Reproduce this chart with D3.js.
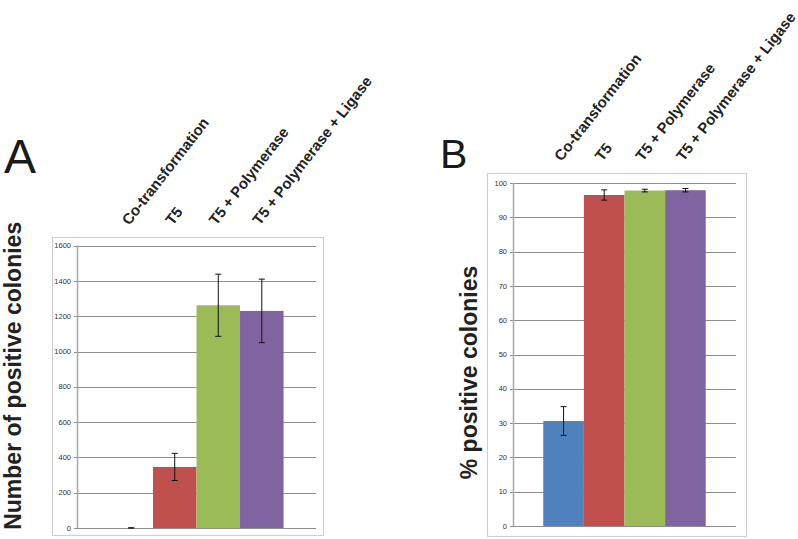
<!DOCTYPE html>
<html>
<head>
<meta charset="utf-8">
<script src="https://cdn.jsdelivr.net/npm/d3@7"></script>
<style>
  body { margin: 0; background: #fff; }
  svg { display: block; }
</style>
</head>
<body>
<div id="chart"></div>
<script>

// chart data
var categories = ["Co-transformation", "T5", "T5 + Polymerase", "T5 + Polymerase + Ligase"];
var barColors = ["#4f81bd", "#c0504d", "#9bbb59", "#8064a2"];

var countValues = [0, 346, 1262, 1230];
var countErrors = [1, 77, 176, 180];
var countTicks = [0, 200, 400, 600, 800, 1000, 1200, 1400, 1600];

var pctValues = [30.6, 96.5, 97.8, 97.9];
var pctErrors = [4.2, 1.5, 0.4, 0.5];
var pctTicks = [0, 10, 20, 30, 40, 50, 60, 70, 80, 90, 100];

var svg = d3.select("#chart").append("svg")
    .attr("width", 798)
    .attr("height", 539);

function drawPanel(opt){

    var g = svg.append("g");

    // outer chart frame
    g.append("rect")
        .attr("x", opt.frame[0] + 0.5)
        .attr("y", opt.frame[1] + 0.5)
        .attr("width", opt.frame[2] - opt.frame[0])
        .attr("height", opt.frame[3] - opt.frame[1])
        .attr("fill", "none")
        .attr("stroke", "#d0d0d0")
        .attr("stroke-width", 1.2);

    var x = d3.scaleBand()
        .domain(categories)
        .range([opt.left, opt.right])
        .paddingInner(0)
        .paddingOuter(0.745);

    var y = d3.scaleLinear()
        .domain([0, opt.max])
        .range([opt.bottom, opt.top]);

    // gridlines
    g.selectAll(".grid")
        .data(opt.ticks)
        .enter().append("line")
        .attr("x1", opt.left - 3)
        .attr("x2", opt.right)
        .attr("y1", function(d){ return Math.round(y(d)) + 0.5; })
        .attr("y2", function(d){ return Math.round(y(d)) + 0.5; })
        .attr("stroke", "#8e8e8e")
        .attr("stroke-width", 1);

    // y axis line
    g.append("line")
        .attr("x1", opt.left + 0.5).attr("x2", opt.left + 0.5)
        .attr("y1", opt.top).attr("y2", opt.bottom)
        .attr("stroke", "#a8a8a8")
        .attr("stroke-width", 1.5);

    g.selectAll(".tick-label")
        .data(opt.ticks)
        .enter().append("text")
        .attr("x", opt.left - 6)
        .attr("y", function(d){ return y(d) + 2.6; })
        .attr("text-anchor", "end")
        .attr("font-family", "Liberation Sans, Arial, sans-serif")
        .attr("font-size", "7.5px")
        .attr("fill", "#333")
        .text(function(d){ return d; });

    // bars
    g.selectAll(".bar")
        .data(opt.values)
        .enter().append("rect")
        .attr("x", function(d, i){ return x(categories[i]); })
        .attr("y", function(d){ return y(d); })
        .attr("width", x.bandwidth())
        .attr("height", function(d){ return y(0) - y(d); })
        .attr("fill", function(d, i){ return barColors[i]; });

    // error bars
    var cap = 3;
    opt.values.forEach(function(v, i){
        var cx = x(categories[i]) + x.bandwidth() / 2;
        var lo = y(v - opt.errors[i]), hi = y(v + opt.errors[i]);
        if (lo > y(0)) lo = y(0);
        g.append("line").attr("x1", cx).attr("x2", cx).attr("y1", lo).attr("y2", hi)
            .attr("stroke", "#111").attr("stroke-width", 1);
        [lo, hi].forEach(function(yy){
            g.append("line").attr("x1", cx - cap).attr("x2", cx + cap).attr("y1", yy).attr("y2", yy)
                .attr("stroke", "#111").attr("stroke-width", 1);
        });
    });

    // rotated category labels
    g.selectAll(".cat")
        .data(categories)
        .enter().append("text")
        .attr("transform", function(d){
            var cx = x(d) + x.bandwidth() / 2 - 2;
            return "translate(" + cx + "," + opt.labelY + ") rotate(-52)";
        })
        .attr("font-family", "Liberation Sans, Arial, sans-serif")
        .attr("font-weight", "bold")
        .attr("font-size", "15px")
        .attr("fill", "#222")
        .text(function(d){ return d; });

    // y title
    g.append("text")
        .attr("transform", "translate(" + opt.titleX + "," + ((opt.top + opt.bottom) / 2 + opt.titleShift) + ") rotate(-90)")
        .attr("text-anchor", "middle")
        .attr("font-family", "Liberation Sans, Arial, sans-serif")
        .attr("font-weight", "bold")
        .attr("font-size", "23px")
        .attr("fill", "#222")
        .text(opt.title);

    // panel letter
    g.append("text")
        .attr("x", opt.letterPos[0])
        .attr("y", opt.letterPos[1])
        .attr("font-family", "Liberation Sans, Arial, sans-serif")
        .attr("font-size", opt.letterSize + "px")
        .attr("fill", "#1a1a1a")
        .text(opt.letter);
}

drawPanel({
    frame: [52, 237, 323, 535],
    left: 77, right: 316, top: 245.6, bottom: 528,
    max: 1600, ticks: countTicks,
    values: countValues, errors: countErrors,
    labelY: 226,
    title: "Number of positive colonies", titleX: 21, titleShift: -11,
    letter: "A", letterPos: [4, 173], letterSize: 48
});

drawPanel({
    frame: [487, 173, 746, 536],
    left: 513, right: 736, top: 183, bottom: 526,
    max: 100, ticks: pctTicks,
    values: pctValues, errors: pctErrors,
    labelY: 162,
    title: "% positive colonies", titleX: 477, titleShift: 18,
    letter: "B", letterPos: [440, 168], letterSize: 41
});

</script>
</body>
</html>
